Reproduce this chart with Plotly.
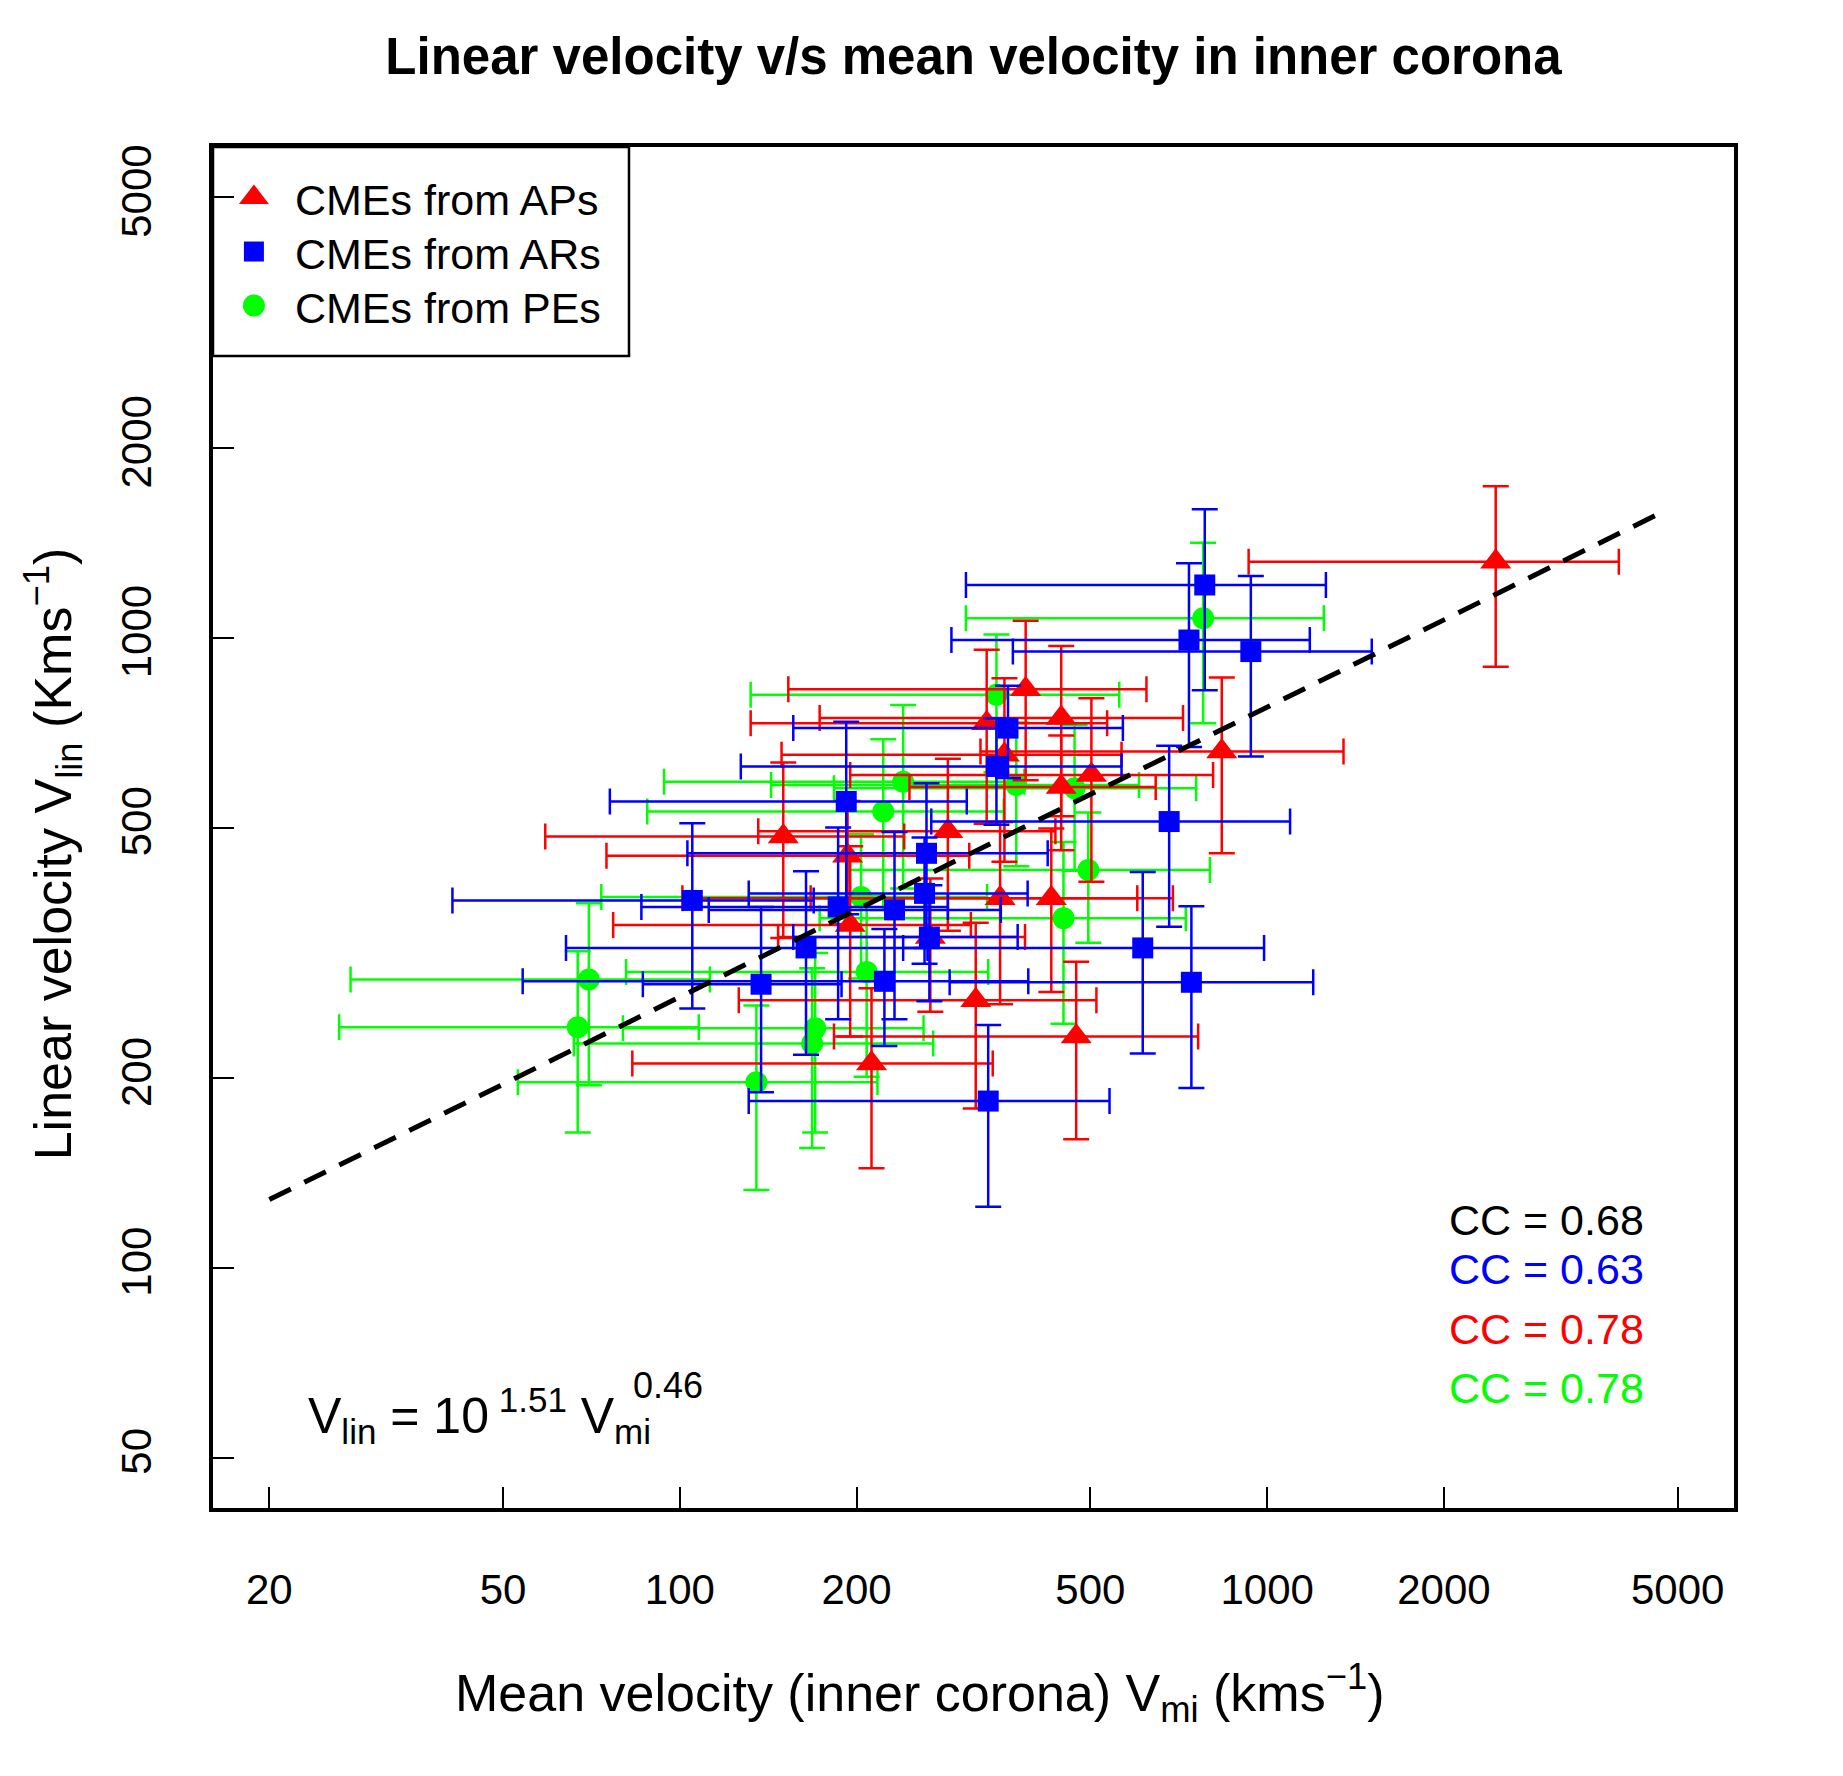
import plotly.graph_objects as go

# ---------------- data (km/s) ----------------
# CMEs from APs (red triangles)
ap_vmi      = [2450, 837, 388, 333, 446, 357, 502, 446, 286, 150, 193, 351, 429, 195, 267, 319, 473, 212]
ap_vmi_err  = [1520, 512, 235, 201, 273, 208, 307, 200, 150,  91, 118, 250, 262, 118, 120, 193, 290, 129]
ap_vlin     = [1320, 660, 829, 732, 746, 652, 606, 580, 493, 484, 451, 386, 386, 350, 335, 266, 233, 211]
ap_vlin_err = [ 420, 205, 235, 225, 225, 211, 196, 120, 150, 150, 100, 124, 112, 117,  80,  87,  73,  67]

# CMEs from ARs (blue squares)
ar_vmi      = [783, 736, 938, 681, 614, 743, 335, 137.5, 223, 164, 105, 186, 232, 261, 263, 192, 266, 362, 346]
ar_vmi_err  = [476, 446, 569, 413, 374, 455, 204,  51,   169, 100,  64, 100, 120, 130, 160, 116, 110, 206, 219]
ar_vlin     = [1213, 992, 951, 511, 322, 284, 184, 282, 285, 322, 383, 374, 370, 393, 455, 550, 335, 719, 625]
ar_vlin_err = [ 387, 321, 303, 163, 103,  91,  59,  92,  60, 104, 125, 126, 122,  89, 133, 186,  70, 120, 120]

# CMEs from PEs (green circles)
pe_vmi      = [778, 346, 240, 222, 374, 470, 496, 450, 70,   67,   208, 170, 168, 135, 203.5]
pe_vmi_err  = [471, 214, 146, 134, 231, 287, 303, 277, 42.5, 40.7, 127,  90, 102,  82, 130]
pe_vlin     = [1074, 812, 591, 530, 584, 577, 428, 359, 287, 241, 295, 240, 227, 197, 388]
pe_vlin_err = [ 342, 200, 191, 160, 150, 150, 100, 115,  92,  77,  94,  76,  72,  64, 100]

# power-law fit  V_lin = 10^a * V_mi^b
fit_a = 1.51
fit_b = 0.46
fit_x = [20, 4800]

series_names = ["CMEs from APs", "CMEs from ARs", "CMEs from PEs"]
cc_labels = ["CC = 0.68", "CC = 0.63", "CC = 0.78", "CC = 0.78"]

x_ticks = [20, 50, 100, 200, 500, 1000, 2000, 5000]
y_ticks = [50, 100, 200, 500, 1000, 2000, 5000]

# ---------------- styling ----------------
RED, BLUE, GREEN = "#FF0000", "#0000FF", "#00FF00"
FONT = "Liberation Sans, Arial, Helvetica, sans-serif"

fig = go.Figure()

def add_series(x, xe, y, ye, color, symbol, size):
    fig.add_trace(go.Scatter(
        x=x, y=y, mode="markers",
        marker=dict(color=color, symbol=symbol, size=size, line=dict(width=0)),
        error_x=dict(type="data", array=xe, symmetric=True, color=color, thickness=2.5, width=13),
        error_y=dict(type="data", array=ye, symmetric=True, color=color, thickness=2.5, width=13),
        showlegend=False, hoverinfo="x+y"))

add_series(pe_vmi, pe_vmi_err, pe_vlin, pe_vlin_err, GREEN, "circle", 22)
add_series(ap_vmi, ap_vmi_err, ap_vlin, ap_vlin_err, RED, "triangle-up", 27)
add_series(ar_vmi, ar_vmi_err, ar_vlin, ar_vlin_err, BLUE, "square", 21)

fit_y = [10 ** fit_a * v ** fit_b for v in fit_x]
fig.add_trace(go.Scatter(x=fit_x, y=fit_y, mode="lines",
                         line=dict(color="black", width=5, dash="24px,15px"),
                         showlegend=False, hoverinfo="skip"))

# custom legend drawn on an overlay axis in plot-fraction units
leg_sym = ["triangle-up", "square", "circle"]
leg_col = [RED, BLUE, GREEN]
leg_size = [26, 20, 22]
leg_y = [0.9629, 0.9232, 0.8835]
for i in range(3):
    fig.add_trace(go.Scatter(x=[0.0269], y=[leg_y[i]], xaxis="x2", yaxis="y2", mode="markers",
                             marker=dict(symbol=leg_sym[i], color=leg_col[i], size=leg_size[i]),
                             showlegend=False, hoverinfo="skip"))

annotations = []
for i, name in enumerate(series_names):
    annotations.append(dict(text=name, xref="paper", yref="paper", x=0.0525, y=leg_y[i] - 0.002,
                            xanchor="left", yanchor="middle", showarrow=False,
                            font=dict(family=FONT, size=43, color="black")))

cc_cols = ["black", BLUE, RED, GREEN]
cc_y = [0.2116, 0.1756, 0.1315, 0.0882]
for t, c, yy in zip(cc_labels, cc_cols, cc_y):
    annotations.append(dict(text=t, xref="paper", yref="paper", x=0.9419, y=yy,
                            xanchor="right", yanchor="middle", showarrow=False,
                            font=dict(family=FONT, size=43, color=c)))

annotations.append(dict(text="V<sub>lin</sub> = 10<sup> %.2f</sup> V<sub>mi</sub>" % fit_a,
                        xref="paper", yref="paper", x=0.0609, y=0.068,
                        xanchor="left", yanchor="middle", showarrow=False,
                        font=dict(family=FONT, size=50, color="black")))
annotations.append(dict(text="%.2f" % fit_b, xref="paper", yref="paper", x=0.2745, y=0.090,
                        xanchor="left", yanchor="middle", showarrow=False,
                        font=dict(family=FONT, size=36, color="black")))

annotations.append(dict(text="Mean velocity (inner corona) V<sub>mi</sub> (kms<sup>\u22121</sup>)",
                        xref="paper", yref="paper", x=0.465, y=-0.136,
                        xanchor="center", yanchor="middle", showarrow=False,
                        font=dict(family=FONT, size=52, color="black")))
annotations.append(dict(text="Linear velocity V<sub>lin</sub> (Kms<sup>\u22121</sup>)",
                        xref="paper", yref="paper", x=-0.105, y=0.4805, textangle=-90,
                        xanchor="center", yanchor="middle", showarrow=False,
                        font=dict(family=FONT, size=52, color="black")))

shapes = [dict(type="rect", xref="paper", yref="paper", x0=0, x1=0.2735, y0=0.8464, y1=1,
               line=dict(color="black", width=2.5), fillcolor="rgba(0,0,0,0)")]

axis_common = dict(type="log", showgrid=False, zeroline=False, showline=True, linecolor="black",
                   linewidth=3.5, mirror=True, ticks="inside", ticklen=21, tickwidth=2,
                   tickcolor="black", tickfont=dict(family=FONT, size=42, color="black"))

fig.update_layout(
    width=1843, height=1776,
    margin=dict(l=213, r=109, t=147, b=268),
    paper_bgcolor="white", plot_bgcolor="white",
    title=dict(text="<b>Linear velocity v/s mean velocity in inner corona</b>",
               x=0.5, xref="paper", xanchor="center", y=1 - 56 / 1776, yanchor="middle",
               font=dict(family=FONT, size=51, color="black")),
    xaxis=dict(range=[1.20511, 3.79489], tickvals=x_ticks, ticktext=[str(v) for v in x_ticks],
               ticklabelstandoff=42, **axis_common),
    yaxis=dict(range=[1.61897, 3.77897], tickvals=y_ticks, ticktext=[str(v) for v in y_ticks],
               tickangle=-90, ticklabelstandoff=41, **axis_common),
    xaxis2=dict(domain=[0, 1], range=[0, 1], overlaying="x", anchor="y2", visible=False, fixedrange=True),
    yaxis2=dict(domain=[0, 1], range=[0, 1], overlaying="y", anchor="x2", visible=False, fixedrange=True),
    annotations=annotations, shapes=shapes, showlegend=False,
)

fig.write_html("out.html")
